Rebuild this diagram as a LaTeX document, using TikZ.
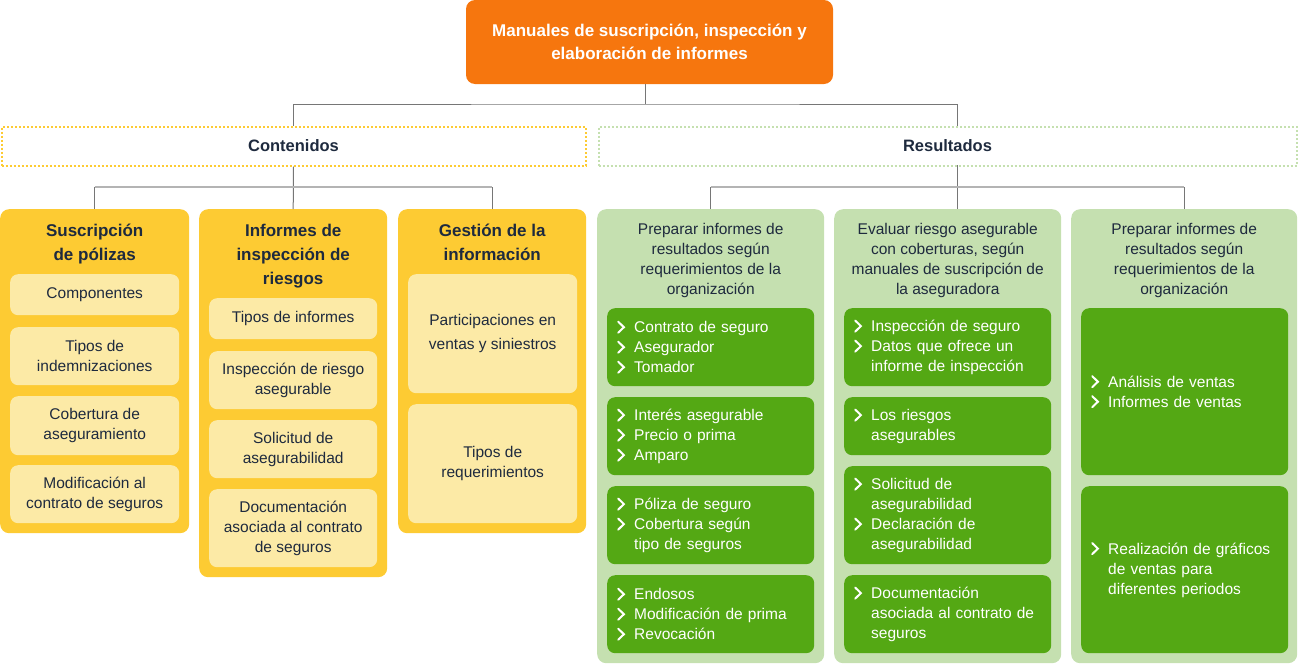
\documentclass[tikz,border=0pt]{standalone}
\usepackage{fontspec}
\setmainfont{Liberation Sans}
\usepackage{tikz}
\usetikzlibrary{calc,positioning}
\definecolor{my_orange}{RGB}{246,118,14}
\definecolor{my_yellow}{RGB}{253,203,51}
\definecolor{my_lyellow}{RGB}{252,234,166}
\definecolor{my_lgreen}{RGB}{197,224,176}
\definecolor{my_green}{RGB}{84,168,20}
\definecolor{my_navy}{RGB}{30,42,62}
\definecolor{my_gray}{RGB}{118,118,118}
\definecolor{my_lgray}{RGB}{180,180,180}
\newcommand{\chev}{\makebox[17pt][l]{\tikz[x=1pt,y=1pt,baseline=0pt,sharp corners]\draw[white,line width=2pt,line cap=round,line join=miter] (0.8,0)--(6.5,5.5)--(0.8,11);}}
\newcommand{\nochev}{\hspace*{17pt}}
\tikzset{
  bodyfont/.style = {font=\fontsize{15.5}{20}\selectfont},
  col_y/.style = {rectangle, rounded corners=9pt, fill=my_yellow, anchor=north west, inner sep=0pt},
  col_g/.style = {rectangle, rounded corners=9pt, fill=my_lgreen, anchor=north west, inner sep=0pt},
  item_y/.style = {rectangle, rounded corners=8pt, fill=my_lyellow, text=my_navy, align=center,
  anchor=north west, inner sep=0pt, bodyfont},
  item_g/.style = {rectangle, rounded corners=8pt, fill=my_green, text=white, align=left,
  anchor=north west, text width=187pt, minimum width=207pt, inner xsep=10pt, inner ysep=0pt, bodyfont}
}

\begin{document}
\begin{tikzpicture}[x=1pt,y=-1pt,
	conn/.style={draw=my_gray, line width=1pt},
	bar/.style={draw=my_lgray, line width=2pt},
	topbox/.style={rectangle, rounded corners=9pt, fill=my_orange, text=white, align=center,
	minimum width=367pt, minimum height=84pt, font=\fontsize{17}{23}\selectfont\bfseries},
	secbox/.style={rectangle, line width=2pt, dash pattern=on 2pt off 2pt, minimum height=39pt,
	text=my_navy, font=\fontsize{16.5}{20}\selectfont\bfseries},
	title_y/.style={anchor=north, align=center, text=my_navy, inner sep=0pt,
	font=\fontsize{17}{24}\selectfont\bfseries},
	title_g/.style={anchor=north, align=center, text=my_navy, inner sep=0pt, bodyfont}]
	\useasboundingbox (0,0) rectangle (1298,664);

	\node [topbox] (top) at (649.5,42) {Manuales de suscripción, inspección y\\elaboración de informes};
	\node [secbox, draw=my_yellow, minimum width=584pt] (cont) at (293.5,146) {Contenidos};
	\node [secbox, draw=my_lgreen, minimum width=698pt] (res) at (947.5,146) {Resultados};

	\node [col_y, minimum width=189pt, minimum height=324pt] (c1) at (0,209) {};
	\node [col_y, minimum width=188pt, minimum height=368pt] (c2) at (199,209) {};
	\node [col_y, minimum width=188pt, minimum height=324pt] (c3) at (398,209) {};
	\node [col_g, minimum width=227pt, minimum height=454pt] (c4) at (597,209) {};
	\node [col_g, minimum width=227pt, minimum height=454pt] (c5) at (834,209) {};
	\node [col_g, minimum width=226pt, minimum height=454pt] (c6) at (1071,209) {};

	\node [title_y] (t1) at (c1.north |- 0,219.5) {\strut Suscripción\\de pólizas};
	\node [title_y] (t2) at (c2.north |- 0,219.5) {\strut Informes de\\inspección de\\riesgos};
	\node [title_y] (t3) at (c3.north |- 0,219.5) {\strut Gestión de la\\información};
	\node [title_g] (t4) at (c4.north |- 0,220) {\strut Preparar informes de\\resultados según\\requerimientos de la\\organización};
	\node [title_g] (t5) at (c5.north |- 0,220) {\strut Evaluar riesgo asegurable\\con coberturas, según\\manuales de suscripción de\\la aseguradora};
	\node [title_g] (t6) at (c6.north |- 0,220) {\strut Preparar informes de\\resultados según\\requerimientos de la\\organización};

	\node [item_y, minimum width=169pt, minimum height=41pt] (c1a) at (10,274) {Componentes};
	\node [item_y, minimum width=169pt, minimum height=58pt] (c1b) at (10,327) {Tipos de\\indemnizaciones};
	\node [item_y, minimum width=169pt, minimum height=59pt] (c1c) at (10,396) {Cobertura de\\aseguramiento};
	\node [item_y, minimum width=169pt, minimum height=58pt] (c1d) at (10,465) {Modificación al\\contrato de seguros};

	\node [item_y, minimum width=168pt, minimum height=41pt] (c2a) at (209,298) {Tipos de informes};
	\node [item_y, minimum width=168pt, minimum height=58pt] (c2b) at (209,351) {Inspección de riesgo\\asegurable};
	\node [item_y, minimum width=168pt, minimum height=58pt] (c2c) at (209,420) {Solicitud de\\asegurabilidad};
	\node [item_y, minimum width=168pt, minimum height=78pt] (c2d) at (209,489) {Documentación\\asociada al contrato\\de seguros};

	\node [item_y, minimum width=169pt, minimum height=119pt, font=\fontsize{15.5}{24}\selectfont] (c3a) at (408,274) {Participaciones en\\ventas y siniestros};
	\node [item_y, minimum width=169pt, minimum height=119pt] (c3b) at (408,404) {Tipos de\\requerimientos};

	\node [item_g, minimum height=78pt] (c4a) at (607,308) {\chev Contrato de seguro\\\chev Asegurador\\\chev Tomador};
	\node [item_g, minimum height=78pt] (c4b) at (607,397) {\chev Interés asegurable\\\chev Precio o prima\\\chev Amparo};
	\node [item_g, minimum height=78pt] (c4c) at (607,486) {\chev Póliza de seguro\\\chev Cobertura según\\\nochev tipo de seguros};
	\node [item_g, minimum height=78pt] (c4d) at (607,575) {\chev Endosos\\\chev Modificación de prima\\\chev Revocación};

	\node [item_g, minimum height=78pt] (c5a) at (844,308) {\chev Inspección de seguro\\\chev Datos que ofrece un\\\nochev informe de inspección};
	\node [item_g, minimum height=58pt] (c5b) at (844,397) {\chev Los riesgos\\\nochev asegurables};
	\node [item_g, minimum height=98pt] (c5c) at (844,466) {\chev Solicitud de\\\nochev asegurabilidad\\\chev Declaración de\\\nochev asegurabilidad};
	\node [item_g, minimum height=78pt] (c5d) at (844,575) {\chev Documentación\\\nochev asociada al contrato de\\\nochev seguros};

	\node [item_g, minimum height=167pt] (c6a) at (1081,308) {\chev Análisis de ventas\\\chev Informes de ventas};
	\node [item_g, minimum height=167pt] (c6b) at (1081,486) {\chev Realización de gráficos\\\nochev de ventas para\\\nochev diferentes periodos};

	\coordinate (tj) at (645,84);
	\coordinate (rj) at (957,165);
	\draw[conn] (tj) -- ++(0,20) coordinate (hj);
	\draw[conn] (cont.north) |- (hj) -| (res.north -| rj);

	\draw[conn] (cont.south) -- (c2.north);
	\draw[conn] (c1.north) -- ++(0,-22) coordinate (b1);
	\draw[conn] (c3.north) -- ++(0,-22) coordinate (b3);
	\draw[bar] (b1) -- (b3);

	\draw[conn] (rj) -- (rj |- c5.north);
	\draw[conn] (c4.north) -- ++(0,-22) coordinate (b4);
	\draw[conn] (c6.north) -- ++(0,-22) coordinate (b6);
	\draw[bar] (b4) -- (b6);
\end{tikzpicture}
\end{document}
